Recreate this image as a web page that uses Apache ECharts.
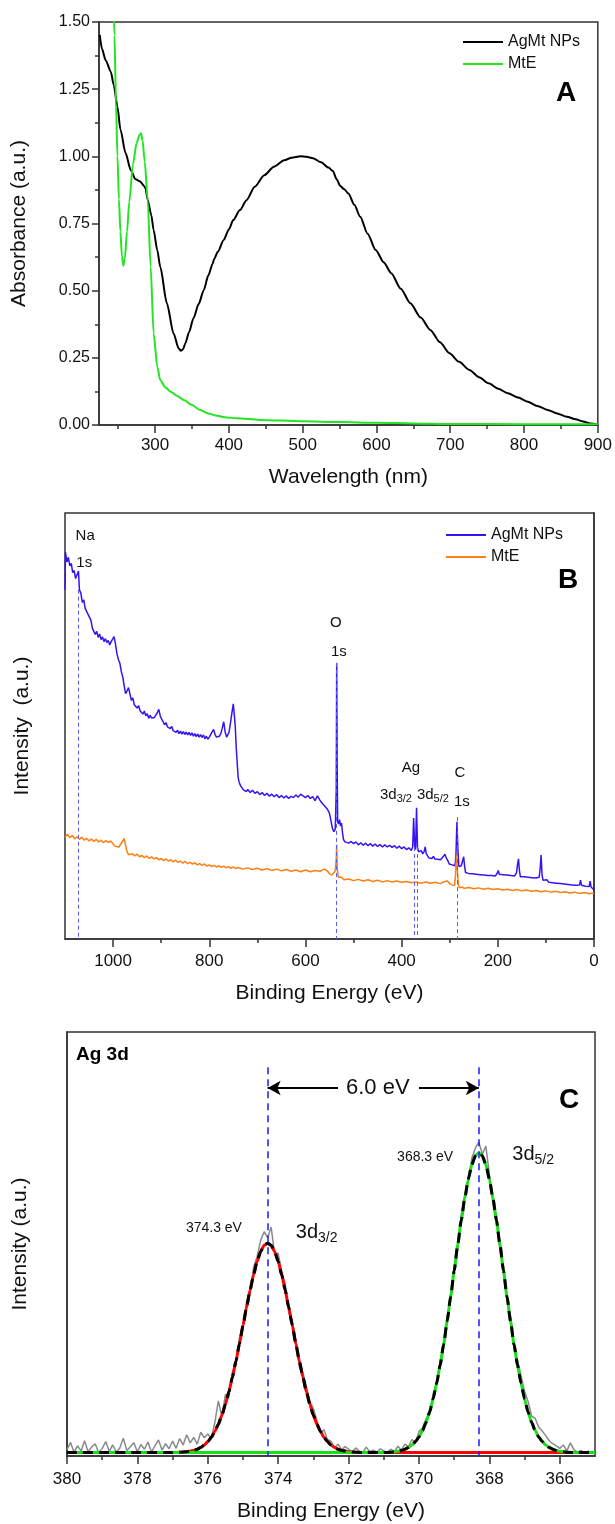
<!DOCTYPE html>
<html><head><meta charset="utf-8">
<script src="https://cdn.jsdelivr.net/npm/echarts@6/dist/echarts.min.js"></script>
<style>html,body{margin:0;padding:0;background:#fff}#c{width:615px;height:1524px}</style>
</head><body><div id="c"></div>
<script>
// ---------- Panel A: UV-Vis ----------
const uvTicks = [300,400,500,600,700,800,900];
const uvMinor = [250,350,450,550,650,750,850];
const agmtUV = [[225,1.452],[228,1.40],[233,1.358],[240,1.315],[244,1.265],[249,1.185],[253,1.10],[260,1.012],[267,0.949],[273,0.916],[280,0.906],[285,0.89],[287,0.881],[290,0.837],[295,0.78],[298,0.726],[303,0.65],[307,0.589],[316,0.453],[325,0.341],[332,0.285],[335,0.276],[338,0.282],[341,0.304],[346,0.345],[352,0.397],[359,0.45],[366,0.502],[372,0.556],[378,0.600],[380,0.618],[385,0.645],[393,0.689],[400,0.728],[406,0.763],[415,0.80],[424,0.837],[435,0.887],[448,0.93],[461,0.961],[475,0.985],[485,0.995],[497,1.0],[505,0.998],[514,0.993],[525,0.978],[535,0.958],[541,0.945],[546,0.915],[551,0.89],[556,0.878],[562,0.862],[570,0.82],[578,0.775],[588,0.712],[599,0.651],[610,0.605],[620,0.565],[633,0.507],[646,0.453],[660,0.40],[673,0.354],[686,0.308],[699,0.267],[712,0.235],[726,0.205],[739,0.178],[752,0.155],[765,0.135],[778,0.118],[792,0.102],[805,0.087],[818,0.071],[832,0.056],[845,0.043],[858,0.031],[870,0.021],[880,0.013],[890,0.006],[900,0.001]];
const mteUV = [[243,1.62],[245,1.45],[247,1.2],[249,1.0],[251,0.84],[253,0.72],[255,0.63],[257,0.593],[259,0.62],[262,0.72],[265,0.83],[270,0.97],[275,1.05],[279,1.08],[281,1.086],[283,1.06],[286,0.98],[290,0.837],[294,0.589],[298,0.341],[303,0.217],[307,0.167],[314,0.14],[321,0.124],[330,0.108],[339,0.093],[350,0.074],[361,0.056],[372,0.043],[384,0.034],[397,0.028],[411,0.025],[442,0.019],[500,0.014],[550,0.011],[600,0.008],[650,0.006],[700,0.004],[800,0.003],[900,0.003]];

// ---------- Panel B: XPS survey ----------
const xpsTicks = [0,200,400,600,800,1000];
const xpsMinor = [100,300,500,700,900];
const agmtXPS = [[1100,82],[1099,90.8],[1096,88.5],[1093,89.6],[1090,87.6],[1087,88.2],[1084,86.0],[1081,86.5],[1078,84.6],[1075,84.9],[1072,86.4],[1070,82.0],[1067,81.2],[1064,79.0],[1061,79.6],[1058,77.6],[1055,78.0],[1052,76.2],[1049,75.5],[1046,74.8],[1043,72.9],[1040,73.3],[1037,71.5],[1034,72.2],[1031,70.8],[1028,71.6],[1025,70.3],[1022,70.9],[1019,69.8],[1016,70.5],[1013,69.6],[1010,70.1],[1007,69.0],[1004,69.8],[1001,69.5],[998,71.0],[995,69.2],[992,67.0],[989,65.6],[986,64.8],[983,62.8],[980,61.6],[977,59.5],[974,57.6],[971,58.2],[968,59.0],[965,57.6],[962,56.0],[959,56.6],[956,55.0],[953,55.4],[950,54.2],[947,54.8],[944,53.6],[941,53.9],[938,52.8],[935,53.5],[932,52.4],[929,52.9],[926,51.8],[923,52.5],[920,51.9],[917,52.3],[914,52.0],[911,52.6],[908,53.1],[905,53.9],[902,52.4],[899,51.6],[896,51.0],[893,50.3],[890,50.8],[887,49.8],[884,50.2],[881,49.4],[878,49.9],[875,48.9],[872,49.3],[869,48.5],[866,49.0],[863,48.2],[860,48.8],[857,48.1],[854,48.7],[851,48.0],[848,48.6],[845,47.9],[842,48.5],[839,47.8],[836,48.4],[833,47.6],[830,48.2],[827,47.5],[824,48.1],[821,47.4],[818,48.0],[815,47.3],[812,47.9],[809,47.0],[806,47.6],[803,46.9],[800,47.4],[797,47.8],[794,48.6],[791,49.2],[788,48.0],[785,47.4],[782,47.0],[779,47.6],[776,48.2],[773,49.5],[770,51.0],[767,48.6],[764,47.4],[762,47.0],[759,48.5],[756,50.6],[753,53.0],[750,55.2],[748,54.8],[746,50.0],[744,45.0],[742,41.5],[740,38.0],[738,36.8],[735,36.0],[732,35.8],[729,35.0],[726,35.4],[723,34.6],[720,35.1],[715,34.4],[710,34.9],[705,34.2],[700,34.6],[695,33.9],[690,34.4],[685,33.7],[680,34.2],[675,33.5],[670,34.0],[665,33.4],[660,33.9],[655,33.2],[650,33.7],[645,33.1],[640,33.6],[635,33.0],[630,33.5],[625,33.2],[620,33.8],[615,33.3],[610,34.0],[605,33.6],[600,33.2],[595,33.7],[590,33.0],[585,33.4],[580,32.5],[575,33.6],[572,34.0],[570,32.6],[565,31.8],[560,31.2],[557,31.6],[554,30.4],[550,29.5],[547,27.8],[544,26.0],[541,25.2],[538,25.8],[536,35.0],[535,64.8],[534,40.0],[533,27.5],[531,27.0],[529,28.0],[527,26.5],[525,27.2],[523,25.0],[521,23.4],[518,22.8],[515,23.2],[510,22.5],[505,22.9],[500,22.4],[495,22.8],[490,22.1],[485,22.6],[480,22.0],[475,22.5],[470,21.9],[465,22.4],[460,21.8],[455,22.3],[450,21.7],[445,22.2],[440,21.6],[435,22.1],[430,21.6],[425,22.0],[420,21.5],[415,21.9],[410,21.3],[405,21.8],[400,21.2],[395,21.6],[390,21.0],[385,21.4],[380,20.8],[377,21.6],[375,28.4],[373,22.0],[371,21.0],[369,30.8],[367,21.5],[365,20.5],[362,20.2],[359,20.7],[356,20.0],[353,20.6],[351,21.6],[349,20.1],[346,19.5],[343,19.0],[340,19.3],[337,18.9],[334,19.4],[331,18.8],[328,19.2],[325,18.7],[322,19.1],[319,18.6],[316,19.0],[313,19.4],[310,19.9],[307,19.0],[304,18.4],[301,17.6],[298,17.9],[295,17.4],[292,17.8],[289,17.2],[287,20.0],[285,27.5],[283,21.0],[281,17.0],[279,16.8],[276,17.2],[273,16.9],[271,19.3],[269,17.0],[267,15.6],[264,15.9],[261,15.4],[257,15.8],[253,15.3],[249,15.7],[245,15.2],[241,15.6],[237,15.1],[233,15.5],[229,15.0],[225,15.4],[221,14.9],[217,15.3],[213,14.9],[209,15.2],[205,14.8],[201,15.5],[199,16.1],[197,15.2],[193,14.8],[189,15.1],[185,14.7],[181,15.0],[177,14.6],[173,14.9],[169,14.5],[165,14.8],[161,15.6],[159,17.5],[157,18.8],[155,16.0],[153,14.6],[149,14.3],[145,14.6],[141,14.2],[137,14.5],[133,14.1],[129,14.4],[125,14.0],[121,14.3],[117,13.9],[114,14.5],[112,16.5],[110,19.7],[108,15.0],[106,13.8],[102,13.5],[98,13.9],[94,13.3],[90,13.7],[86,13.2],[82,13.6],[78,13.1],[74,13.5],[70,13.0],[66,13.4],[62,12.9],[58,13.3],[54,12.8],[50,13.2],[46,12.7],[42,13.1],[38,12.6],[34,13.0],[30,12.7],[28,13.8],[26,12.6],[22,12.9],[18,12.4],[14,12.7],[10,12.3],[8,13.6],[6,12.2],[3,12.4],[0,11.5]];
const mteXPS = [[1100,23.9],[1095,24.6],[1090,23.8],[1085,24.3],[1080,23.5],[1075,24.0],[1070,23.4],[1065,23.9],[1060,23.2],[1055,23.6],[1050,23.0],[1045,23.5],[1040,22.9],[1035,23.4],[1030,22.8],[1025,23.2],[1020,22.6],[1015,23.1],[1010,22.7],[1005,23.0],[1000,22.3],[996,21.8],[992,22.0],[988,21.6],[984,22.3],[980,23.0],[977,23.6],[974,22.0],[971,20.5],[968,19.8],[965,19.6],[960,20.0],[955,19.5],[950,19.9],[945,19.3],[940,19.6],[935,19.1],[930,19.5],[925,18.9],[920,19.3],[915,18.8],[910,19.1],[905,18.6],[900,18.9],[895,18.4],[890,18.8],[885,18.3],[880,18.6],[875,18.1],[870,18.5],[865,18.0],[860,18.3],[855,17.8],[850,18.2],[845,17.7],[840,18.0],[835,17.6],[830,17.9],[825,17.4],[820,17.7],[815,17.3],[810,17.6],[805,17.1],[800,17.4],[795,17.0],[790,17.3],[785,16.9],[780,17.2],[775,16.8],[770,17.1],[765,16.7],[760,17.0],[755,16.6],[750,16.9],[745,16.5],[740,16.8],[730,16.4],[720,16.7],[710,16.3],[700,16.6],[690,16.2],[680,16.5],[670,16.1],[660,16.4],[650,16.0],[640,16.3],[630,15.9],[620,16.2],[610,15.8],[600,16.2],[590,15.8],[580,16.1],[570,15.9],[560,16.4],[555,16.0],[550,15.3],[545,15.0],[541,14.8],[538,16.0],[536,19.0],[535,22.1],[534,17.0],[532,14.5],[529,14.2],[525,14.5],[520,13.9],[510,14.1],[500,13.7],[490,14.0],[480,13.6],[470,13.9],[460,13.5],[450,13.8],[440,13.4],[430,13.7],[420,13.4],[410,13.6],[400,13.3],[390,13.5],[380,13.2],[370,13.4],[360,13.1],[350,13.4],[340,13.1],[330,13.3],[320,13.0],[310,13.5],[305,13.6],[300,13.0],[295,12.7],[290,12.6],[288,15.0],[286,19.7],[284,16.0],[282,12.8],[280,12.0],[275,12.2],[270,11.9],[260,12.1],[250,11.8],[240,12.0],[230,11.7],[220,11.9],[210,11.6],[200,11.8],[190,11.5],[180,11.7],[170,11.4],[160,11.6],[150,11.3],[140,11.5],[130,11.2],[120,11.4],[110,11.1],[100,11.3],[90,11.0],[80,11.2],[70,10.9],[60,11.1],[50,10.8],[40,11.0],[30,10.7],[20,10.9],[10,10.6],[0,10.8]];
// peak markers: [energy, top of dashed line]
const xpsPeakLines = [[1072,82],[535,64.8],[374,21.6],[368,21.6],[285,28.6]];

// ---------- Panel C: Ag 3d ----------
const ag3dTicks = [366,368,370,372,374,376,378,380];
const ag3dMinor = [367,369,371,373,375,377,379];
const rawStart = 380.0, rawStep = 0.1;
const ag3dRaw = [1.5,3.2,0.9,2.4,1.2,3.6,1.0,2.1,2.9,0.8,
1.8,3.4,1.1,2.6,0.9,1.9,4.2,1.3,2.2,3.1,
1.0,2.7,1.6,3.3,0.9,2.4,3.8,1.4,2.9,1.7,
3.5,1.8,4.1,2.6,5.0,3.1,4.4,2.8,5.6,4.3,
5.2,4.1,7.9,13.0,9.2,14.5,13.8,19.9,21.5,28.0,
30.0,36.4,38.2,44.5,47.0,50.8,52.9,51.5,54.0,47.5,
47.8,43.5,40.6,33.8,31.9,27.6,21.0,19.8,16.4,12.9,
11.2,8.4,5.5,6.2,3.9,3.5,1.9,2.8,1.5,2.2,
1.6,0.9,1.9,1.2,0.8,2.1,1.0,1.4,0.9,1.7,
1.2,0.9,1.6,1.0,2.3,1.4,2.8,2.2,3.9,3.1,
5.8,6.6,8.8,9.9,14.6,16.8,22.5,25.9,33.0,37.2,
44.6,49.0,56.9,61.5,64.8,70.2,72.6,74.0,71.2,73.1,
66.4,59.6,56.8,48.5,44.9,36.8,32.9,25.4,22.6,18.9,
15.2,12.8,9.4,8.9,6.8,5.9,4.8,3.6,2.9,2.4,
1.8,2.6,1.2,3.1,1.5,0.9,1.3,0.8,1.1,0.9,0.8];
const fit32 = [[380,0.8],[378,0.8],[377,0.8],[376.8,0.9],[376.6,1.0],[376.5,1.2],[376.4,1.3],[376.3,1.6],[376.2,2.0],[376.1,2.6],[376.0,3.4],[375.9,4.4],[375.8,5.8],[375.7,7.5],[375.6,9.6],[375.5,12.2],[375.4,15.2],[375.3,18.6],[375.2,22.4],[375.1,26.5],[375.0,30.8],[374.9,35.0],[374.8,39.1],[374.7,42.7],[374.6,45.9],[374.5,48.2],[374.4,49.7],[374.3,50.2],[374.2,49.7],[374.1,48.2],[374.0,45.9],[373.9,42.7],[373.8,39.1],[373.7,35.0],[373.6,30.8],[373.5,26.5],[373.4,22.4],[373.3,18.6],[373.2,15.2],[373.1,12.2],[373.0,9.6],[372.9,7.5],[372.8,5.8],[372.7,4.4],[372.6,3.4],[372.5,2.6],[372.4,2.0],[372.3,1.6],[372.2,1.3],[372.1,1.2],[372.0,1.0],[371.8,0.9],[371.6,0.8],[365,0.8]];
const fit52 = [[380,0.8],[371.0,0.8],[370.8,0.9],[370.7,1.0],[370.6,1.1],[370.5,1.3],[370.4,1.6],[370.3,2.0],[370.2,2.6],[370.1,3.4],[370.0,4.5],[369.9,6.0],[369.8,7.9],[369.7,10.3],[369.6,13.4],[369.5,17.1],[369.4,21.4],[369.3,26.3],[369.2,31.8],[369.1,37.6],[369.0,43.7],[368.9,49.8],[368.8,55.6],[368.7,60.8],[368.6,65.3],[368.5,68.7],[368.4,70.8],[368.3,71.5],[368.2,70.8],[368.1,68.7],[368.0,65.3],[367.9,60.8],[367.8,55.6],[367.7,49.8],[367.6,43.7],[367.5,37.6],[367.4,31.8],[367.3,26.3],[367.2,21.4],[367.1,17.1],[367.0,13.4],[366.9,10.3],[366.8,7.9],[366.7,6.0],[366.6,4.5],[366.5,3.4],[366.4,2.6],[366.3,2.0],[366.2,1.6],[366.1,1.3],[366.0,1.1],[365.9,1.0],[365.8,0.9],[365.6,0.8],[365,0.8]];
const ag3dCenters = [374.3, 368.3];

// ---------- build ----------
const FONT = '"Liberation Sans", Arial, sans-serif';
const INK = '#111';
const AX = {color:'#333', width:1.5};
const rawData = ag3dRaw.map((v,i)=>[+(rawStart - i*rawStep).toFixed(1), v]);
const envelope = fit32.filter(p=>p[0]>=371.3).concat(fit52.filter(p=>p[0]<371.3));

function mainX(grid, min, max, inverse, ticks, name, gap, margin){
  return {gridIndex:grid, type:'value', min, max, inverse, position:'bottom',
    axisLine:{show:true, onZero:false, lineStyle:AX},
    axisTick:{show:true, customValues:ticks, length:8, lineStyle:AX},
    axisLabel:{show:true, customValues:ticks, fontSize:17, fontFamily:FONT, color:INK, margin, formatter:v=>String(v)},
    splitLine:{show:false}, name, nameLocation:'middle', nameGap:gap,
    nameTextStyle:{fontSize:21, fontFamily:FONT, color:INK}};
}
function minorX(grid, min, max, inverse, ticks){
  return {gridIndex:grid, type:'value', min, max, inverse, position:'bottom', offset:0,
    axisLine:{show:false}, axisTick:{show:true, customValues:ticks, length:4, lineStyle:AX},
    axisLabel:{show:false}, splitLine:{show:false}};
}
function blankY(grid, name, gap){
  return {gridIndex:grid, type:'value', min:0, max:100,
    axisLine:{show:true, lineStyle:AX}, axisTick:{show:false}, axisLabel:{show:false},
    splitLine:{show:false}, name, nameLocation:'middle', nameGap:gap,
    nameTextStyle:{fontSize:21, fontFamily:FONT, color:INK}};
}
function annot(xi, yi, items){
  return {type:'scatter', xAxisIndex:xi, yAxisIndex:yi, symbolSize:0, silent:true, z:10,
    itemStyle:{opacity:1},
    data: items.map(it=>({value:[it.x,it.y], itemStyle:{opacity:1}, label:{show:true, position:'inside', opacity:1,
      formatter:it.t, align:it.a||'center', verticalAlign:'middle',
      fontSize:it.fs, fontFamily:FONT, color:INK, textBorderWidth:0, textBorderColor:'transparent',
      rich:{m:{fontSize:it.fs, fontFamily:FONT, color:INK, lineHeight:it.fs+2, textBorderWidth:0},
            s:{fontSize:Math.round(it.fs*0.7), fontFamily:FONT, color:INK, textBorderWidth:0, verticalAlign:'bottom', padding:[Math.round(it.fs*0.55),0,0,0]}}}}))};
}

const option = {
  animation:false, backgroundColor:'#fff',
  grid:[
    {left:99, top:22, width:501, height:403, show:true, borderColor:'#333', borderWidth:1.5},
    {left:65, top:513, width:529, height:426, show:true, borderColor:'#333', borderWidth:1.5},
    {left:67, top:1032, width:528, height:424, show:true, borderColor:'#333', borderWidth:1.5}
  ],
  legend:[
    {data:['AgMt NPs','MtE'], orient:'vertical', left:458, top:29, icon:'rect', itemWidth:40, itemHeight:2, itemGap:6,
     textStyle:{fontSize:16, fontFamily:FONT, color:INK}, selectedMode:false},
    {data:['AgMt NPs ','MtE '], orient:'vertical', left:441, top:522, icon:'rect', itemWidth:40, itemHeight:2, itemGap:6,
     textStyle:{fontSize:16, fontFamily:FONT, color:INK}, selectedMode:false}
  ],
  xAxis:[
    mainX(0, 224, 900, false, uvTicks, 'Wavelength (nm)', 42, 12),
    minorX(0, 224, 900, false, uvMinor),
    mainX(1, 0, 1100, true, xpsTicks, 'Binding Energy (eV)', 44, 14),
    minorX(1, 0, 1100, true, xpsMinor),
    mainX(2, 365, 380, true, ag3dTicks, 'Binding Energy (eV)', 45, 15),
    minorX(2, 365, 380, true, ag3dMinor)
  ],
  yAxis:[
    {gridIndex:0, type:'value', min:0, max:1.5, interval:0.25,
     axisLine:{show:true, lineStyle:AX}, axisTick:{show:true, length:7, lineStyle:AX},
     minorTick:{show:true, splitNumber:2, length:4, lineStyle:AX},
     axisLabel:{fontSize:16, fontFamily:FONT, color:INK, margin:9, formatter:v=>v.toFixed(2)},
     splitLine:{show:false}, name:'Absorbance (a.u.)', nameLocation:'middle', nameGap:69,
     nameTextStyle:{fontSize:21, fontFamily:FONT, color:INK}},
    blankY(1, 'Intensity  (a.u.)', 32),
    blankY(2, 'Intensity (a.u.)', 36)
  ],
  graphic:[
    {type:'text', left:556, top:79, style:{text:'A', font:'bold 28px '+FONT, fill:'#000'}},
    {type:'text', left:558, top:566, style:{text:'B', font:'bold 28px '+FONT, fill:'#000'}},
    {type:'text', left:559, top:1086, style:{text:'C', font:'bold 28px '+FONT, fill:'#000'}},
    {type:'text', left:76, top:1045, style:{text:'Ag 3d', font:'bold 19px '+FONT, fill:'#000'}}
  ],
  series:[
    {name:'AgMt NPs', type:'line', xAxisIndex:0, yAxisIndex:0, data:agmtUV, showSymbol:false, smooth:0.25, smoothMonotone:'x',
     lineStyle:{color:'#000', width:2}, itemStyle:{color:'#000'}},
    {name:'MtE', type:'line', xAxisIndex:0, yAxisIndex:0, data:mteUV, showSymbol:false, smooth:0.25, smoothMonotone:'x',
     lineStyle:{color:'#22e622', width:2}, itemStyle:{color:'#22e622'}},

    {name:'AgMt NPs ', type:'line', xAxisIndex:2, yAxisIndex:1, data:agmtXPS, showSymbol:false,
     lineStyle:{color:'#3a12f2', width:1.5}, itemStyle:{color:'#3a12f2'},
     markLine:{silent:true, symbol:'none', label:{show:false}, animation:false,
       lineStyle:{color:'#5a5aff', width:1, type:[4,3]},
       data: xpsPeakLines.map(p=>[{coord:[p[0],p[1]]},{coord:[p[0],0]}])}},
    {name:'MtE ', type:'line', xAxisIndex:2, yAxisIndex:1, data:mteXPS, showSymbol:false,
     lineStyle:{color:'#ff7f12', width:1.5}, itemStyle:{color:'#ff7f12'}},
    annot(2, 1, [
      {t:'Na', x:1058, y:94.6, fs:15}, {t:'1s', x:1060, y:88.3, fs:15},
      {t:'O', x:536.6, y:74.2, fs:15}, {t:'1s', x:530.4, y:67.4, fs:15},
      {t:'Ag', x:380.7, y:40.1, fs:15},
      {t:'{m|3d}{s|3/2}', x:445, y:33.8, fs:15, a:'left'},
      {t:'{m|3d}{s|5/2}', x:368.2, y:33.8, fs:15, a:'left'},
      {t:'C', x:278.8, y:39.0, fs:15}, {t:'1s', x:274.6, y:32.2, fs:15}
    ]),

    {name:'raw', type:'line', xAxisIndex:4, yAxisIndex:2, data:rawData, showSymbol:false,
     lineStyle:{color:'#8a8a8a', width:1.5},
     markLine:{silent:true, symbol:['none','arrow'], symbolSize:[11,13], label:{show:false}, animation:false,
       lineStyle:{color:'#000', width:2, type:'solid'},
       data:[[{coord:[372.3,86.8]},{coord:[374.3,86.8]}],[{coord:[370.0,86.8]},{coord:[368.3,86.8]}]]}},
    {name:'fit32', type:'line', xAxisIndex:4, yAxisIndex:2, data:fit32, showSymbol:false, smooth:0.2, smoothMonotone:'x',
     lineStyle:{color:'#ff0000', width:3}},
    {name:'fit52', type:'line', xAxisIndex:4, yAxisIndex:2, data:fit52, showSymbol:false, smooth:0.2, smoothMonotone:'x',
     lineStyle:{color:'#14e014', width:3}},
    {name:'envelope', type:'line', xAxisIndex:4, yAxisIndex:2, data:envelope, showSymbol:false, smooth:0.2, smoothMonotone:'x',
     lineStyle:{color:'#000', width:3, type:[10,6]},
     markLine:{silent:true, symbol:'none', label:{show:false}, animation:false,
       lineStyle:{color:'#1a1aff', width:1.5, type:[7,5]},
       data: ag3dCenters.map(c=>[{coord:[c,91.7]},{coord:[c,0]}])}},
    annot(4, 2, [
      {t:'6.0 eV', x:371.17, y:86.8, fs:22},
      {t:'368.3 eV', x:369.03, y:70.5, fs:14, a:'right'},
      {t:'{m|3d}{s|5/2}', x:367.35, y:71.0, fs:20, a:'left'},
      {t:'374.3 eV', x:375.03, y:53.8, fs:14, a:'right'},
      {t:'{m|3d}{s|3/2}', x:373.5, y:52.6, fs:20, a:'left'}
    ])
  ]
};
const chart = echarts.init(document.getElementById('c'), null, {renderer:'canvas'});
chart.setOption(option);
</script></body></html>
